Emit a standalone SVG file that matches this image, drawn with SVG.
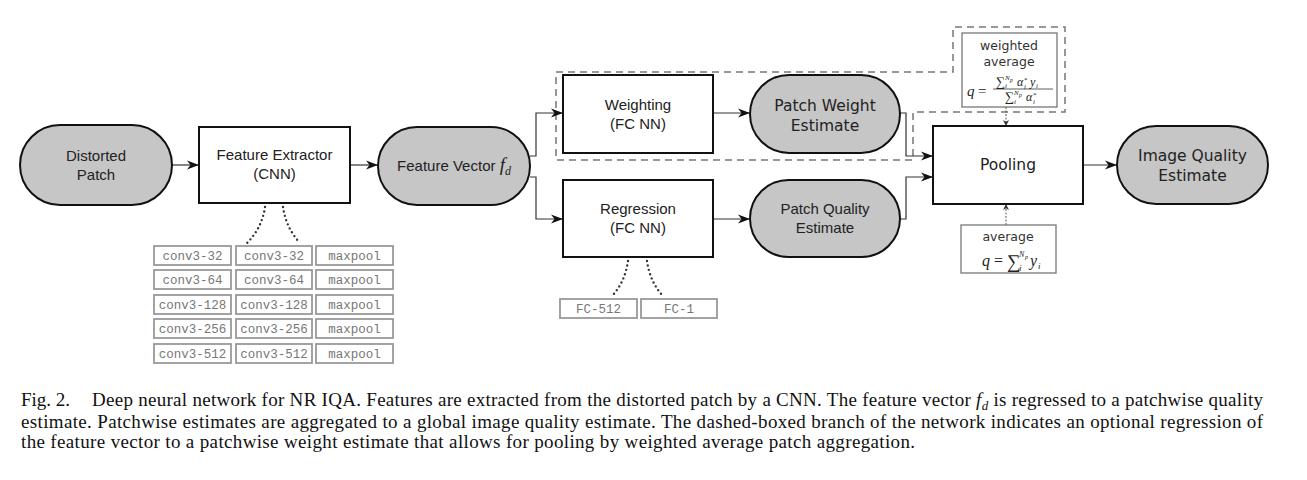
<svg xmlns="http://www.w3.org/2000/svg" width="1307" height="480" viewBox="0 0 1307 480">
<style>
.bg{fill:#fff}
.term{fill:#c6c6c6;stroke:#111;stroke-width:2}
.box{fill:#fff;stroke:#111;stroke-width:2}
.lab{font-family:"Liberation Sans",Arial,sans-serif;font-size:15px;fill:#222;text-anchor:middle}
.labd{font-family:"DejaVu Sans",sans-serif;font-size:15.5px;fill:#222;text-anchor:middle}
.small{font-family:"DejaVu Sans",sans-serif;font-size:12.5px;fill:#333;text-anchor:middle}
.math{font-family:"Liberation Serif","Times New Roman",serif;fill:#222}
.it{font-style:italic}
.conn{fill:none;stroke:#333;stroke-width:1.2}
.thin{fill:none;stroke:#555;stroke-width:1;stroke-dasharray:2 1.5}
.dots{fill:none;stroke:#333;stroke-width:2.4;stroke-linecap:round;stroke-dasharray:0 4.5}
.dash{fill:none;stroke:#777;stroke-width:1.5;stroke-dasharray:7 5}
.cell{fill:#fff;stroke:#999;stroke-width:1.8}
.mono{font-family:"Liberation Mono","Courier New",monospace;font-size:12.5px;fill:#777;text-anchor:middle}
.fbox{fill:#fff;stroke:#777;stroke-width:1.3}
.cap{font-family:"Liberation Serif","Times New Roman",serif;font-size:19px;fill:#111}
</style>
<defs>
<marker id="ah" markerUnits="userSpaceOnUse" markerWidth="14" markerHeight="10" refX="12" refY="5" orient="auto">
<path d="M0,0.5 L12,5 L0,9.5 L3.5,5 Z" fill="#111"/>
</marker>
<marker id="ahs" markerUnits="userSpaceOnUse" markerWidth="8" markerHeight="6" refX="6" refY="3" orient="auto">
<path d="M0,0 L6,3 L0,6 L1.8,3 Z" fill="#333"/>
</marker>
</defs>
<rect class="bg" x="0" y="0" width="1307" height="480"/>

<g id="dashed-branch">
<polygon class="dash" points="556,72 953,72 953,27 1065,27 1065,112 913,112 913,160 556,160"/>
</g>

<g id="connectors">
<path class="conn" d="M172,165 H199" marker-end="url(#ah)"/>
<path class="conn" d="M350,165 H378" marker-end="url(#ah)"/>
<path class="conn" d="M530,156 H536 V113 H563" marker-end="url(#ah)"/>
<path class="conn" d="M530,177 H536 V219 H563" marker-end="url(#ah)"/>
<path class="conn" d="M713,113 H750" marker-end="url(#ah)"/>
<path class="conn" d="M713,219 H750" marker-end="url(#ah)"/>
<path class="conn" d="M900,113 H906 V156 H933" marker-end="url(#ah)"/>
<path class="conn" d="M900,219 H906 V177 H933" marker-end="url(#ah)"/>
<path class="conn" d="M1083,165 H1117" marker-end="url(#ah)"/>
<path class="thin" d="M1006,107 V126" marker-end="url(#ahs)"/>
<path class="thin" d="M1006,225 V204" marker-end="url(#ahs)"/>
<path class="dots" d="M265,207 Q262,228 247,243"/>
<path class="dots" d="M283,207 Q286,228 300,243"/>
<path class="dots" d="M628,261 Q625,282 612,296"/>
<path class="dots" d="M647,261 Q650,282 663,296"/>
</g>

<g id="distorted-patch">
<rect class="term" x="20" y="125" width="152" height="80" rx="40" ry="40"/>
<text class="lab" x="96" y="161">Distorted</text>
<text class="lab" x="96" y="180">Patch</text>
</g>

<g id="feature-extractor">
<rect class="box" x="199" y="127" width="151" height="76"/>
<text class="lab" x="274.5" y="160">Feature Extractor</text>
<text class="lab" x="274.5" y="179">(CNN)</text>
</g>

<g id="feature-vector">
<rect class="term" x="378" y="127" width="152" height="78" rx="39" ry="39"/>
<text class="lab" x="454" y="171">Feature Vector <tspan class="math it" font-size="19">f</tspan><tspan class="math it" font-size="12" dy="4">d</tspan></text>
</g>

<g id="weighting">
<rect class="box" x="563" y="75" width="150" height="78"/>
<text class="lab" x="638" y="110">Weighting</text>
<text class="lab" x="638" y="129">(FC NN)</text>
</g>

<g id="regression">
<rect class="box" x="563" y="180" width="150" height="77"/>
<text class="lab" x="638" y="214">Regression</text>
<text class="lab" x="638" y="233">(FC NN)</text>
</g>

<g id="patch-weight-estimate">
<rect class="term" x="750" y="75" width="150" height="78" rx="39" ry="39"/>
<text class="labd" x="825" y="111">Patch Weight</text>
<text class="labd" x="825" y="131">Estimate</text>
</g>

<g id="patch-quality-estimate">
<rect class="term" x="750" y="180" width="150" height="77" rx="38.5" ry="38.5"/>
<text class="lab" x="825" y="214">Patch Quality</text>
<text class="lab" x="825" y="233">Estimate</text>
</g>

<g id="pooling">
<rect class="box" x="933" y="126" width="150" height="78"/>
<text class="labd" x="1008" y="170">Pooling</text>
</g>

<g id="image-quality-estimate">
<rect class="term" x="1117" y="126" width="151" height="78" rx="39" ry="39"/>
<text class="labd" x="1192.5" y="161">Image Quality</text>
<text class="labd" x="1192.5" y="181">Estimate</text>
</g>

<g id="weighted-average">
<rect class="fbox" x="962" y="33" width="95" height="74"/>
<text class="small" x="1009" y="50">weighted</text>
<text class="small" x="1009" y="66">average</text>
<text class="math it" x="967" y="96" font-size="15">q</text>
<text class="math" x="978" y="96" font-size="15">=</text>
<line x1="993" y1="89" x2="1053" y2="89" stroke="#333" stroke-width="0.8"/>
<text class="math" x="996" y="86" font-size="13">∑</text>
<text class="math it" x="1005" y="88" font-size="7">i</text>
<text class="math it" x="1005" y="80" font-size="7">N</text>
<text class="math it" x="1010" y="82" font-size="5.5">p</text>
<text class="math it" x="1017" y="86" font-size="12">α</text>
<text class="math" x="1024" y="82" font-size="7">*</text>
<text class="math it" x="1024" y="89" font-size="7">i</text>
<text class="math it" x="1030" y="86" font-size="12">y</text>
<text class="math it" x="1036" y="88" font-size="7">i</text>
<text class="math" x="1005" y="101" font-size="13">∑</text>
<text class="math it" x="1014" y="104" font-size="7">i</text>
<text class="math it" x="1014" y="95" font-size="7">N</text>
<text class="math it" x="1019" y="97" font-size="5.5">p</text>
<text class="math it" x="1026" y="101" font-size="12">α</text>
<text class="math" x="1033" y="97" font-size="7">*</text>
<text class="math it" x="1033" y="104" font-size="7">i</text>
</g>

<g id="average">
<rect class="fbox" x="961" y="225" width="95" height="48"/>
<text class="small" x="1008" y="241">average</text>
<text class="math it" x="982" y="266" font-size="16">q</text>
<text class="math" x="994" y="266" font-size="16">=</text>
<text class="math" x="1007" y="268" font-size="19">∑</text>
<text class="math it" x="1019" y="271" font-size="9">i</text>
<text class="math it" x="1019" y="257" font-size="8">N</text>
<text class="math it" x="1025" y="259" font-size="6">p</text>
<text class="math it" x="1030" y="266" font-size="16">y</text>
<text class="math it" x="1038" y="269" font-size="9">i</text>
</g>

<g id="cnn-layers">
<rect class="cell" x="154" y="246" width="77" height="19"/><text class="mono" x="192.5" y="260">conv3-32</text>
<rect class="cell" x="236" y="246" width="76" height="19"/><text class="mono" x="274" y="260">conv3-32</text>
<rect class="cell" x="316" y="246" width="77" height="19"/><text class="mono" x="354.5" y="260">maxpool</text>
<rect class="cell" x="154" y="270" width="77" height="19"/><text class="mono" x="192.5" y="284">conv3-64</text>
<rect class="cell" x="236" y="270" width="76" height="19"/><text class="mono" x="274" y="284">conv3-64</text>
<rect class="cell" x="316" y="270" width="77" height="19"/><text class="mono" x="354.5" y="284">maxpool</text>
<rect class="cell" x="154" y="295" width="77" height="19"/><text class="mono" x="192.5" y="309">conv3-128</text>
<rect class="cell" x="236" y="295" width="76" height="19"/><text class="mono" x="274" y="309">conv3-128</text>
<rect class="cell" x="316" y="295" width="77" height="19"/><text class="mono" x="354.5" y="309">maxpool</text>
<rect class="cell" x="154" y="319" width="77" height="19"/><text class="mono" x="192.5" y="333">conv3-256</text>
<rect class="cell" x="236" y="319" width="76" height="19"/><text class="mono" x="274" y="333">conv3-256</text>
<rect class="cell" x="316" y="319" width="77" height="19"/><text class="mono" x="354.5" y="333">maxpool</text>
<rect class="cell" x="154" y="344" width="77" height="19"/><text class="mono" x="192.5" y="358">conv3-512</text>
<rect class="cell" x="236" y="344" width="76" height="19"/><text class="mono" x="274" y="358">conv3-512</text>
<rect class="cell" x="316" y="344" width="77" height="19"/><text class="mono" x="354.5" y="358">maxpool</text>
</g>

<g id="fc-layers">
<rect class="cell" x="560" y="299" width="77" height="19"/><text class="mono" x="598.5" y="313">FC-512</text>
<rect class="cell" x="641" y="299" width="76" height="19"/><text class="mono" x="679" y="313">FC-1</text>
</g>

<g id="caption">
<text class="cap" x="21" y="406">Fig. 2.</text>
<text class="cap" x="92" y="406" textLength="1171" lengthAdjust="spacing">Deep neural network for NR IQA. Features are extracted from the distorted patch by a CNN. The feature vector <tspan class="it">f</tspan><tspan class="it" font-size="13" dy="4">d</tspan><tspan dy="-4"> is regressed to a patchwise quality</tspan></text>
<text class="cap" x="21" y="428" textLength="1242" lengthAdjust="spacing">estimate. Patchwise estimates are aggregated to a global image quality estimate. The dashed-boxed branch of the network indicates an optional regression of</text>
<text class="cap" x="21" y="448" textLength="894" lengthAdjust="spacing">the feature vector to a patchwise weight estimate that allows for pooling by weighted average patch aggregation.</text>
</g>
</svg>
